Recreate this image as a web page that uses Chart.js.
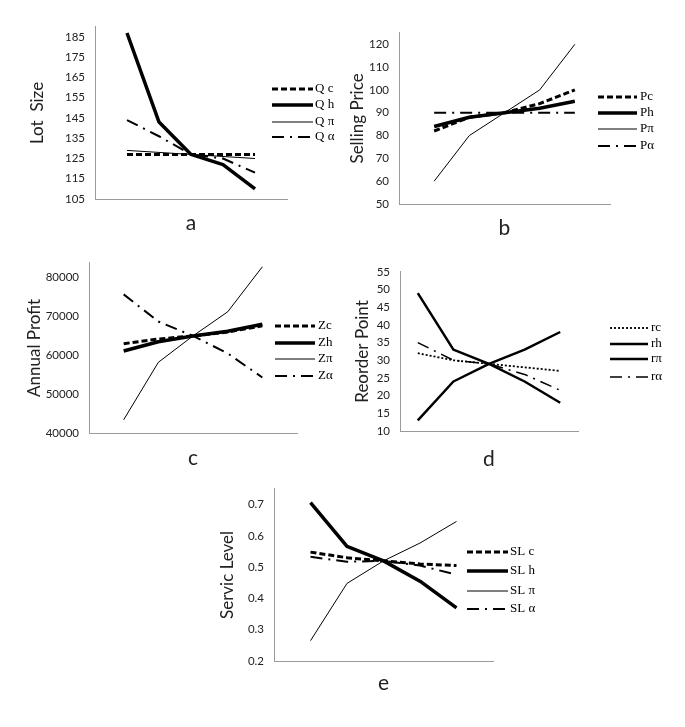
<!DOCTYPE html>
<html>
<head>
<meta charset="utf-8">
<script src="https://cdn.jsdelivr.net/npm/chart.js@4.4.0/dist/chart.umd.min.js"></script>
<style>
body { margin: 0; background: #fff; }
#page { position: relative; width: 685px; height: 727px; overflow: hidden; background: #fff; }
canvas { position: absolute; }
</style>
</head>
<body>
<div id="page"></div>
<script>
// parameter levels along the x axis
const levels = [1, 2, 3, 4, 5];

// a: lot size
const lotLabels = ['Q c', 'Q h', 'Q π', 'Q α'];
const lotC = [127, 127, 127, 127, 127];
const lotH = [187, 143, 127, 122, 110];
const lotPi = [129, 128, 127, 126, 125];
const lotAlpha = [144, 136, 127, 125, 118];
const lotTicks = [105, 115, 125, 135, 145, 155, 165, 175, 185];

// b: selling price
const priceLabels = ['Pc', 'Ph', 'Pπ', 'Pα'];
const priceC = [82, 88, 90, 94, 100];
const priceH = [84, 88, 90, 92, 95];
const pricePi = [60, 80, 90, 100, 120];
const priceAlpha = [90, 90, 90, 90, 90];
const priceTicks = [50, 60, 70, 80, 90, 100, 110, 120];

// c: annual profit
const profitLabels = ['Zc', 'Zh', 'Zπ', 'Zα'];
const profitC = [63000, 64200, 65000, 66000, 67600];
const profitH = [61100, 63500, 65000, 66200, 68000];
const profitPi = [43400, 58200, 65000, 71200, 82800];
const profitAlpha = [75700, 68700, 65000, 60500, 54300];
const profitTicks = [40000, 50000, 60000, 70000, 80000];

// d: reorder point
const reorderLabels = ['rc', 'rh', 'rπ', 'rα'];
const reorderC = [32, 30, 29, 28, 27];
const reorderH = [49, 33, 29, 24, 18];
const reorderPi = [13, 24, 29, 33, 38];
const reorderAlpha = [35, 30, 29, 26, 21.5];
const reorderTicks = [10, 15, 20, 25, 30, 35, 40, 45, 50, 55];

// e: service level
const serviceLabels = ['SL c', 'SL h', 'SL π', 'SL α'];
const serviceC = [0.548, 0.53, 0.52, 0.51, 0.505];
const serviceH = [0.706, 0.566, 0.52, 0.455, 0.37];
const servicePi = [0.265, 0.448, 0.52, 0.577, 0.646];
const serviceAlpha = [0.533, 0.517, 0.52, 0.505, 0.476];
const serviceTicks = [0.2, 0.3, 0.4, 0.5, 0.6, 0.7];

// line styles: c dashed, h heavy, pi thin, alpha dash-dot
const mainStyles = [
    { w: 3, dash: [6, 3] },
    { w: 3.5, dash: [] },
    { w: 1, dash: [] },
    { w: 2, dash: [12, 6, 2, 6] }
];
const reorderStyles = [
    { w: 1.8, dash: [2, 2] },
    { w: 2.5, dash: [] },
    { w: 2.5, dash: [] },
    { w: 1.5, dash: [12, 6, 2, 6] }
];

const AXIS = '#9a9a9a';
const page = document.getElementById('page');

// 線の見本つき凡例
const lineKey = {
    id: 'lineKey',
    afterDraw(chart, args, opts) {
        const ctx = chart.ctx;
        chart.data.datasets.forEach((ds, i) => {
            const y = opts.rows[i] - opts.top;
            ctx.save();
            ctx.strokeStyle = ds.borderColor;
            ctx.lineWidth = ds.borderWidth;
            ctx.setLineDash(ds.borderDash || []);
            ctx.beginPath();
            ctx.moveTo(opts.x1 - opts.left, y);
            ctx.lineTo(opts.x2 - opts.left, y);
            ctx.stroke();
            ctx.setLineDash([]);
            ctx.fillStyle = '#000';
            ctx.font = '13px "Liberation Serif"';
            ctx.textBaseline = 'middle';
            ctx.fillText(ds.label, opts.tx - opts.left, y);
            ctx.restore();
        });
    }
};

function makePanel(p) {
    const left = Math.round(p.titleX - 12);
    const top = p.plot.t - 14;
    const right = p.key.tx + 48;
    const bottom = p.plot.b + 48;
    const w = right - left, h = bottom - top;

    const cv = document.createElement('canvas');
    cv.width = w; cv.height = h;
    cv.style.left = left + 'px'; cv.style.top = top + 'px';
    cv.style.width = w + 'px'; cv.style.height = h + 'px';
    page.appendChild(cv);

    return new Chart(cv, {
        type: 'line',
        data: {
            datasets: p.series.map((s, i) => ({
                label: p.labels[i],
                data: levels.map((x, j) => ({ x: x, y: s[j] })),
                borderColor: '#000',
                borderWidth: p.styles[i].w,
                borderDash: p.styles[i].dash,
                borderJoinStyle: 'round',
                pointRadius: 0,
                tension: 0,
                fill: false,
                clip: false
            }))
        },
        options: {
            responsive: false,
            animation: false,
            devicePixelRatio: 1,
            layout: { padding: { top: 14, left: 0, right: right - p.plot.r, bottom: 0 } },
            plugins: {
                legend: { display: false },
                tooltip: { enabled: false },
                lineKey: { x1: p.key.x1, x2: p.key.x2, tx: p.key.tx, rows: p.key.rows, left: left, top: top }
            },
            scales: {
                x: {
                    type: 'linear',
                    min: p.xMin, max: p.xMax,
                    ticks: { display: false },
                    grid: { display: false, drawTicks: false },
                    border: { display: true, color: AXIS, width: 1 },
                    title: {
                        display: true, text: p.letter, color: '#222',
                        font: { family: 'Lato', size: 21 },
                        padding: { top: 0, bottom: 48 - p.letterDy - 12.6 }
                    },
                    afterFit: s => { s.height = 48; }
                },
                y: {
                    min: p.yMin, max: p.yMax,
                    afterBuildTicks: s => { s.ticks = p.ticks.map(v => ({ value: v })); },
                    ticks: {
                        padding: 10, color: '#222',
                        font: { family: 'Lato', size: 11.5 },
                        callback: v => String(v)
                    },
                    grid: { display: false, drawTicks: false },
                    border: { display: true, color: AXIS, width: 1 },
                    title: {
                        display: true, text: p.yTitle, color: '#222',
                        font: { family: 'Lato', size: 17 },
                        padding: { top: p.titleX - left - 10.2, bottom: 0 }
                    },
                    afterFit: s => { s.width = p.plot.l - left; }
                }
            }
        },
        plugins: [lineKey]
    });
}

makePanel({
    plot: { l: 95, t: 24, r: 287, b: 199 }, titleX: 38, letter: 'a', letterDy: 24,
    yTitle: 'Lot  Size', yMin: 105, yMax: 190, ticks: lotTicks, xMin: 0, xMax: 6,
    labels: lotLabels, series: [lotC, lotH, lotPi, lotAlpha], styles: mainStyles,
    key: { x1: 272, x2: 313, tx: 315, rows: [89, 105, 122, 137] }
});

makePanel({
    plot: { l: 399, t: 30, r: 610, b: 204 }, titleX: 358, letter: 'b', letterDy: 24,
    yTitle: 'Selling Price', yMin: 50, yMax: 125, ticks: priceTicks, xMin: 0, xMax: 6,
    labels: priceLabels, series: [priceC, priceH, pricePi, priceAlpha], styles: mainStyles,
    key: { x1: 598, x2: 637, tx: 640, rows: [97, 113, 129, 146] }
});

makePanel({
    plot: { l: 89, t: 260, r: 297, b: 433 }, titleX: 35, letter: 'c', letterDy: 25,
    yTitle: 'Annual Profit', yMin: 40000, yMax: 83800, ticks: profitTicks, xMin: 0, xMax: 6,
    labels: profitLabels, series: [profitC, profitH, profitPi, profitAlpha], styles: mainStyles,
    key: { x1: 275, x2: 315, tx: 318, rows: [326, 343, 359, 376] }
});

makePanel({
    plot: { l: 400, t: 269, r: 578, b: 431 }, titleX: 363, letter: 'd', letterDy: 28,
    yTitle: 'Reorder Point', yMin: 10, yMax: 55, ticks: reorderTicks, xMin: 0.5, xMax: 5.5,
    labels: reorderLabels, series: [reorderC, reorderH, reorderPi, reorderAlpha], styles: reorderStyles,
    key: { x1: 610, x2: 648, tx: 651, rows: [328, 344, 359, 377] }
});

makePanel({
    plot: { l: 274, t: 486, r: 493, b: 661 }, titleX: 228, letter: 'e', letterDy: 22,
    yTitle: 'Servic Level', yMin: 0.2, yMax: 0.75, ticks: serviceTicks, xMin: 0, xMax: 6,
    labels: serviceLabels, series: [serviceC, serviceH, servicePi, serviceAlpha], styles: mainStyles,
    key: { x1: 467, x2: 508, tx: 510, rows: [552, 571, 591, 609] }
});
</script>
</body>
</html>
